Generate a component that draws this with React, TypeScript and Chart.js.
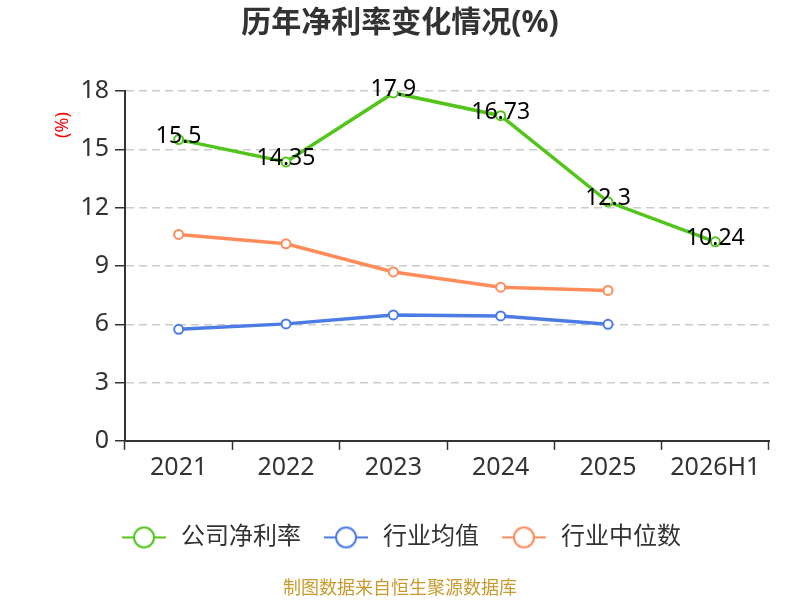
import React, { useEffect, useRef } from 'react';
import Chart from 'chart.js/auto';

const categories = ['2021', '2022', '2023', '2024', '2025', '2026H1'];
const companyRate = [15.5, 14.35, 17.9, 16.73, 12.3, 10.24];
const industryAvg = [5.74, 6.02, 6.48, 6.43, 6.0];
const industryMedian = [10.62, 10.14, 8.69, 7.91, 7.74];
const seriesNames = ['公司净利率', '行业均值', '行业中位数'];
const seriesColors = ['#52c41a', '#4b7be5', '#ff8c5a'];

const FONT = "'Noto Sans', 'Noto Sans CJK SC', sans-serif";

// legend marker: short line with a hollow circle on it
function makeMarker(color: string) {
  const c = document.createElement('canvas');
  c.width = 44;
  c.height = 24;
  const ctx = c.getContext('2d')!;
  ctx.strokeStyle = color;
  ctx.lineWidth = 2;
  ctx.beginPath();
  ctx.moveTo(0, 12);
  ctx.lineTo(44, 12);
  ctx.stroke();
  ctx.beginPath();
  ctx.arc(22, 12, 10, 0, Math.PI * 2);
  ctx.fillStyle = '#fff';
  ctx.fill();
  ctx.stroke();
  return c;
}

const extrasPlugin = {
  id: 'extras',
  afterDatasetsDraw(chart: any) {
    const { ctx, chartArea } = chart;
    const meta = chart.getDatasetMeta(0);
    ctx.save();
    ctx.font = `23px ${FONT}`;
    ctx.fillStyle = '#000';
    ctx.textAlign = 'center';
    ctx.textBaseline = 'middle';
    meta.data.forEach((pt: any, i: number) => {
      ctx.fillText(String(companyRate[i]), pt.x, pt.y - 3);
    });
    // unit label
    ctx.translate(chartArea.left - 62, chartArea.top + 34);
    ctx.rotate(-Math.PI / 2);
    ctx.font = `18px ${FONT}`;
    ctx.fillStyle = '#ff0000';
    ctx.fillText('(%)', 0, 0);
    ctx.restore();
  },
};

const NetMarginChart: React.FC = () => {
  const canvasRef = useRef<HTMLCanvasElement>(null);
  const chartRef = useRef<Chart | null>(null);

  useEffect(() => {
    document.body.style.margin = '0';
    if (!canvasRef.current) return;
    if (chartRef.current) chartRef.current.destroy();

    const markers = seriesColors.map(makeMarker);
    const lineDs = (label: string, data: number[], color: string) => ({
      label,
      data,
      borderColor: color,
      backgroundColor: '#fff',
      borderWidth: 3.5,
      pointRadius: 4.5,
      pointBorderWidth: 2,
      pointBackgroundColor: '#fff',
      pointBorderColor: color,
      tension: 0,
    });

    chartRef.current = new Chart(canvasRef.current, {
      type: 'line',
      data: {
        labels: categories,
        datasets: [
          lineDs(seriesNames[0], companyRate, seriesColors[0]),
          lineDs(seriesNames[1], industryAvg, seriesColors[1]),
          lineDs(seriesNames[2], industryMedian, seriesColors[2]),
        ],
      },
      options: {
        responsive: false,
        animation: false,
        layout: { padding: { left: 31, right: 31, top: 0, bottom: 0 } },
        scales: {
          x: {
            offset: true,
            grid: {
              offset: true,
              drawOnChartArea: false,
              drawTicks: true,
              tickLength: 9,
              tickColor: '#333',
              tickWidth: 1.5,
            },
            border: { color: '#333', width: 2 },
            ticks: { color: '#333', font: { size: 25, family: FONT }, padding: 3 },
            afterFit: (scale: any) => {
              scale.height = 64.5;
            },
          },
          y: {
            min: 0,
            max: 18,
            ticks: { stepSize: 3, color: '#333', font: { size: 25, family: FONT }, padding: 6 },
            grid: {
              color: '#cccccc',
              lineWidth: 1.5,
              tickLength: 10,
              tickColor: '#333',
              tickWidth: 1.5,
              tickBorderDash: [],
            },
            border: { color: '#333', width: 2, dash: [8, 5] },
            afterFit: (scale: any) => {
              scale.width = 94;
            },
          },
        },
        plugins: {
          title: {
            display: true,
            text: '历年净利率变化情况(%)',
            color: '#333',
            font: { size: 30, weight: 'bold', family: FONT },
            padding: { top: 5, bottom: 50 },
          },
          subtitle: {
            display: true,
            position: 'bottom',
            text: '制图数据来自恒生聚源数据库',
            color: '#c99a2e',
            font: { size: 18, family: FONT },
            padding: { top: 19, bottom: 0 },
          },
          legend: {
            position: 'bottom',
            labels: {
              usePointStyle: true,
              pointStyleWidth: 50,
              padding: 20,
              color: '#333',
              font: { size: 24, family: FONT },
              generateLabels: (chart: any) => {
                const items = Chart.defaults.plugins.legend.labels.generateLabels(chart);
                items.forEach((it: any, i: number) => {
                  it.pointStyle = markers[i];
                });
                return items;
              },
            },
          },
          tooltip: { enabled: false },
        },
      },
      plugins: [extrasPlugin],
    } as any);

    return () => {
      if (chartRef.current) {
        chartRef.current.destroy();
        chartRef.current = null;
      }
    };
  }, []);

  return (
    <div style={{ width: 800, height: 600 }}>
      <canvas ref={canvasRef} width={800} height={600} />
    </div>
  );
};

export default function App() {
  return <NetMarginChart />;
}
